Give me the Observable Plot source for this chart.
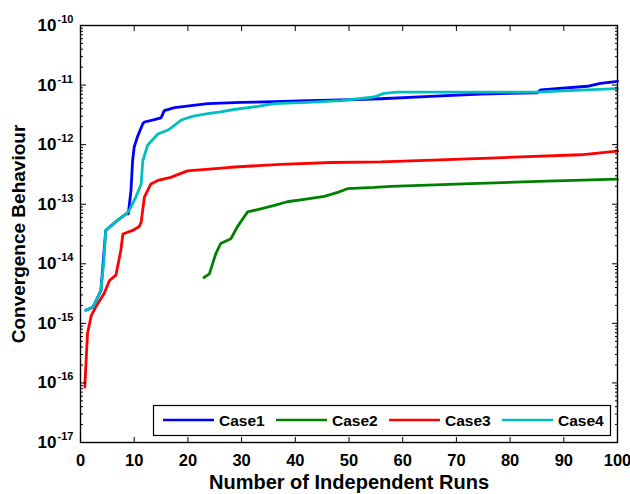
<!DOCTYPE html>
<html><head><meta charset="utf-8">
<script src="https://cdn.jsdelivr.net/npm/d3@7"></script>
<script src="https://cdn.jsdelivr.net/npm/@observablehq/plot@0.6"></script>
<style>html,body{margin:0;padding:0;background:#fff;} svg{display:block}</style>
</head><body><div id="chart"></div><script>
const seriesNames = ["Case1", "Case2", "Case3", "Case4"];
const seriesColors = ["#0000ff", "#008000", "#ff0000", "#00bfbf"];

const case1Runs = [1, 2.3, 3.8, 4.7, 6.9, 8.5, 8.9, 9.4, 9.7, 10, 10.6, 11.6, 11.9, 13.4, 15, 15.6, 17.5, 23.7, 29.9, 36.1, 42.3, 48.5, 55.9, 65.2, 74.5, 85, 85.7, 94.4, 96.8, 100];
const case1Values = [1.66e-15, 1.86e-15, 3.55e-15, 3.63e-14, 5.37e-14, 6.92e-14, 6.92e-14, 1.7e-13, 5.37e-13, 9.12e-13, 1.35e-12, 2.24e-12, 2.4e-12, 2.57e-12, 2.82e-12, 3.72e-12, 4.17e-12, 4.9e-12, 5.13e-12, 5.25e-12, 5.5e-12, 5.62e-12, 5.89e-12, 6.46e-12, 7.08e-12, 7.41e-12, 8.32e-12, 9.55e-12, 1.07e-11, 1.15e-11];

const case2Runs = [23, 24, 25.2, 26.1, 28, 29.2, 31.1, 33, 36.1, 38.5, 42.3, 45.4, 47.9, 49.7, 54.7, 57.8, 71.4, 86.9, 100];
const case2Values = [5.89e-15, 6.76e-15, 1.48e-14, 2.19e-14, 2.63e-14, 4.17e-14, 7.41e-14, 8.13e-14, 9.55e-14, 1.1e-13, 1.23e-13, 1.35e-13, 1.58e-13, 1.82e-13, 1.91e-13, 2.0e-13, 2.19e-13, 2.45e-13, 2.63e-13];

const case3Runs = [0.8, 1.3, 2, 3, 4.4, 5.4, 6.6, 7.5, 7.9, 9.7, 10.9, 11.3, 11.9, 13.1, 14.4, 16.8, 19.9, 28, 37.3, 46.6, 55.9, 68.3, 80.7, 93.1, 100];
const case3Values = [8.5e-17, 6.76e-16, 1.35e-15, 2.0e-15, 3.16e-15, 5.25e-15, 6.46e-15, 1.66e-14, 3.16e-14, 3.63e-14, 4.17e-14, 5.01e-14, 1.32e-13, 2.19e-13, 2.51e-13, 2.82e-13, 3.63e-13, 4.17e-13, 4.68e-13, 5.01e-13, 5.13e-13, 5.62e-13, 6.17e-13, 6.76e-13, 7.76e-13];

const case4Runs = [1, 2.3, 3, 3.8, 4.3, 4.7, 5.5, 6.9, 8.5, 9.1, 10.3, 11.3, 11.6, 12.5, 14.4, 16.2, 17.2, 18.7, 19.3, 21, 23.7, 26.1, 28.6, 33, 36.1, 42.3, 48.5, 54.7, 56.5, 59, 62, 85, 92, 100];
const case4Values = [1.66e-15, 1.86e-15, 2.51e-15, 3.55e-15, 1.0e-14, 3.63e-14, 4.17e-14, 5.37e-14, 6.92e-14, 7.94e-14, 1.32e-13, 2.19e-13, 5.37e-13, 9.77e-13, 1.51e-12, 1.74e-12, 2.0e-12, 2.57e-12, 2.69e-12, 3.02e-12, 3.31e-12, 3.55e-12, 3.89e-12, 4.37e-12, 4.9e-12, 5.13e-12, 5.5e-12, 6.31e-12, 7.24e-12, 7.59e-12, 7.59e-12, 7.59e-12, 8.13e-12, 8.71e-12];

const xTicks = [0, 10, 20, 30, 40, 50, 60, 70, 80, 90, 100];
const yMajorTicks = [1e-17, 1e-16, 1e-15, 1e-14, 1e-13, 1e-12, 1e-11, 1e-10];
const yTickExponents = ["-17", "-16", "-15", "-14", "-13", "-12", "-11", "-10"];
const xLabel = "Number of Independent Runs";
const yLabel = "Convergence Behaviour";

const allRuns = [case1Runs, case2Runs, case3Runs, case4Runs];
const allValues = [case1Values, case2Values, case3Values, case4Values];
const seriesData = seriesNames.map((name, s) =>
  allRuns[s].map((r, i) => ({series: name, run: r, value: allValues[s][i]})));

const yMinorTicks = [];
for (let k = 0; k < yMajorTicks.length - 1; k++)
  for (let m = 2; m <= 9; m++) yMinorTicks.push(m * yMajorTicks[k]);

const font = "'Liberation Sans', Arial, Helvetica, sans-serif";

const chart = Plot.plot({
  width: 630, height: 494,
  marginLeft: 80, marginRight: 13, marginTop: 25, marginBottom: 52,
  style: {fontFamily: font, background: "#fff", color: "#000", overflow: "visible"},
  x: {domain: [0, 100]},
  y: {type: "log", domain: [1e-17, 1e-10]},
  marks: [
    ...seriesData.map((d, s) => Plot.line(d, {x: "run", y: "value", stroke: seriesColors[s], strokeWidth: 2.8, strokeLinejoin: "round"})),
    Plot.frame({stroke: "#000", strokeWidth: 1.4}),
    Plot.axisX({ticks: xTicks, anchor: "bottom", tickSize: -5, fill: "none", label: null}),
    Plot.axisX({ticks: xTicks, anchor: "top", tickSize: -5, fill: "none", label: null}),
    Plot.axisX({ticks: xTicks, anchor: "bottom", tickSize: 0, tickPadding: 12, fontSize: 16.5, fontWeight: "bold", label: null}),
    Plot.axisY({ticks: yMajorTicks, anchor: "left", tickSize: -6, fill: "none", label: null}),
    Plot.axisY({ticks: yMinorTicks, anchor: "left", tickSize: -3, fill: "none", label: null}),
    Plot.axisY({ticks: yMajorTicks, anchor: "right", tickSize: -6, fill: "none", label: null}),
    Plot.axisY({ticks: yMinorTicks, anchor: "right", tickSize: -3, fill: "none", label: null}),
    Plot.text(yMajorTicks, {y: d => d, text: () => "10", frameAnchor: "left", textAnchor: "end", dx: -24, fontSize: 17, fontWeight: "bold"}),
    Plot.text(yMajorTicks, {y: d => d, text: (d, i) => yTickExponents[i], frameAnchor: "left", textAnchor: "start", dx: -23, dy: -6, fontSize: 11, fontWeight: "bold"}),
    Plot.text([xLabel], {text: d => d, frameAnchor: "bottom", textAnchor: "middle", dy: 46, fontSize: 20, fontWeight: "bold"}),
    Plot.text([yLabel], {text: d => d, frameAnchor: "left", textAnchor: "middle", lineAnchor: "middle", dx: -62, rotate: -90, fontSize: 19, fontWeight: "bold"})
  ]
});

document.getElementById("chart").appendChild(chart);

// Legend inside the plot area (lower right), MATLAB style
const svg = d3.select(chart);
const lg = svg.append("g").attr("font-family", font).attr("font-weight", "bold").attr("font-size", 15.5).attr("text-anchor", "start");
lg.append("rect").attr("x", 153.5).attr("y", 405.5).attr("width", 457).attr("height", 30)
  .attr("fill", "#fff").attr("stroke", "#000").attr("stroke-width", 1.2);
seriesNames.forEach((name, i) => {
  const x0 = 163 + i * 113;
  lg.append("line").attr("x1", x0).attr("x2", x0 + 51).attr("y1", 420).attr("y2", 420)
    .attr("stroke", seriesColors[i]).attr("stroke-width", 2.6);
  lg.append("text").attr("x", x0 + 56).attr("y", 426).attr("text-anchor", "start").attr("fill", "#000").text(name);
});
</script></body></html>
